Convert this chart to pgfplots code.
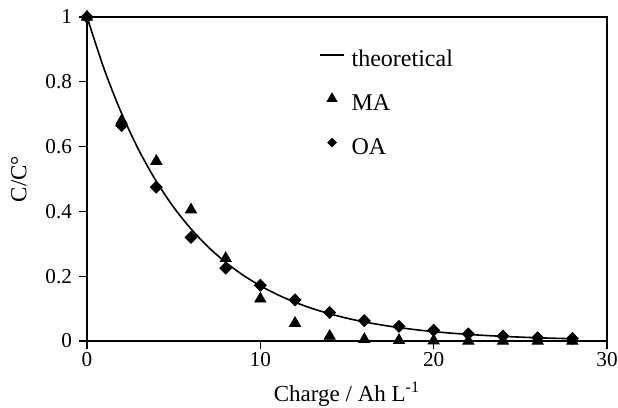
\documentclass[border=0pt]{standalone}
\usepackage{pgfplots}
\pgfplotsset{compat=1.18}
\usepackage{fontspec}
\setmainfont{Liberation Serif}
\pgfplotsset{
  shortline/.style={legend image code/.code={
    \draw[##1, line width=1pt] (0cm,0.08cm) -- (0.42cm,0.08cm); \path (0.47cm,0.07cm);}},
  smallmark/.style={legend image code/.code={
    \draw[##1] plot coordinates {(0.21cm,0.09cm)}; \path (0cm,0.07cm) (0.47cm,0.07cm);}},
}
\begin{document}
\begin{tikzpicture}
\begin{axis}[
name=ax,
width=260pt, height=162pt, scale only axis,
xmin=0, xmax=30, ymin=0, ymax=1,
xtick={0,10,20,30},
ytick={0,0.2,0.4,0.6,0.8,1},
tick align=outside, xtick pos=left, ytick pos=left,
major tick length=4pt,
axis line style={line width=0.7pt},
every tick/.style={black, line width=0.6pt},
/pgf/number format/assume math mode=true,
tick label style={font=\fontsize{10.6}{12}\selectfont},
xticklabel style={yshift=2pt},
label style={font=\fontsize{11.5}{13}\selectfont},
xlabel={Charge / Ah L\textsuperscript{-1}},
ylabel={C/C°},
xlabel style={at={(axis description cs:0.5,-0.163)}, anchor=center},
ylabel style={at={(axis description cs:-0.131,0.5)}, anchor=center},
legend style={at={(rel axis cs:0.434,0.925)}, anchor=north west, draw=none, fill=none,
  row sep=8.5pt, font=\fontsize{12}{14}\selectfont, legend cell align=left},
clip=false,
]
\addplot[black, line width=0.8pt, smooth, mark=none, shortline] coordinates {
(0,1) (1,0.8378) (2,0.7019) (3,0.5881) (4,0.4927) (5,0.4128) (6,0.3459)
(7,0.2898) (8,0.2428) (9,0.2034) (10,0.1704) (11,0.1428) (12,0.1196)
(13,0.1002) (14,0.0840) (15,0.0703) (16,0.0589) (17,0.0494) (18,0.0414)
(19,0.0347) (20,0.0290) (21,0.0243) (22,0.0204) (23,0.0171) (24,0.0143)
(25,0.0120) (26,0.0100) (27,0.0084) (28,0.0070)
};
\addlegendentry{theoretical}
\addplot[only marks, mark=triangle*, mark size=3.2pt, black, smallmark,
  legend image post style={mark size=2.8pt}] coordinates {
(0,1.0) (2,0.68) (4,0.555) (6,0.405) (8,0.255) (10,0.13) (12,0.055)
(14,0.015) (16,0.005) (18,0.002) (20,0.001) (22,0) (24,0) (26,0) (28,0)
};
\addlegendentry{MA}
\addplot[only marks, mark=square*, mark size=2.1pt, mark options={rotate=45}, black, smallmark,
  legend image post style={mark size=1.5pt}] coordinates {
(0,1.0) (2,0.665) (4,0.475) (6,0.32) (8,0.225) (10,0.172) (12,0.127)
(14,0.088) (16,0.063) (18,0.045) (20,0.033) (22,0.022) (24,0.015) (26,0.01) (28,0.008)
};
\addlegendentry{OA}
\end{axis}
\pgfresetboundingbox
\path (ax.south west) ++(-43.5pt,-33pt) rectangle (ax.north east) ++(5.5pt,8.5pt);
\end{tikzpicture}
\end{document}
